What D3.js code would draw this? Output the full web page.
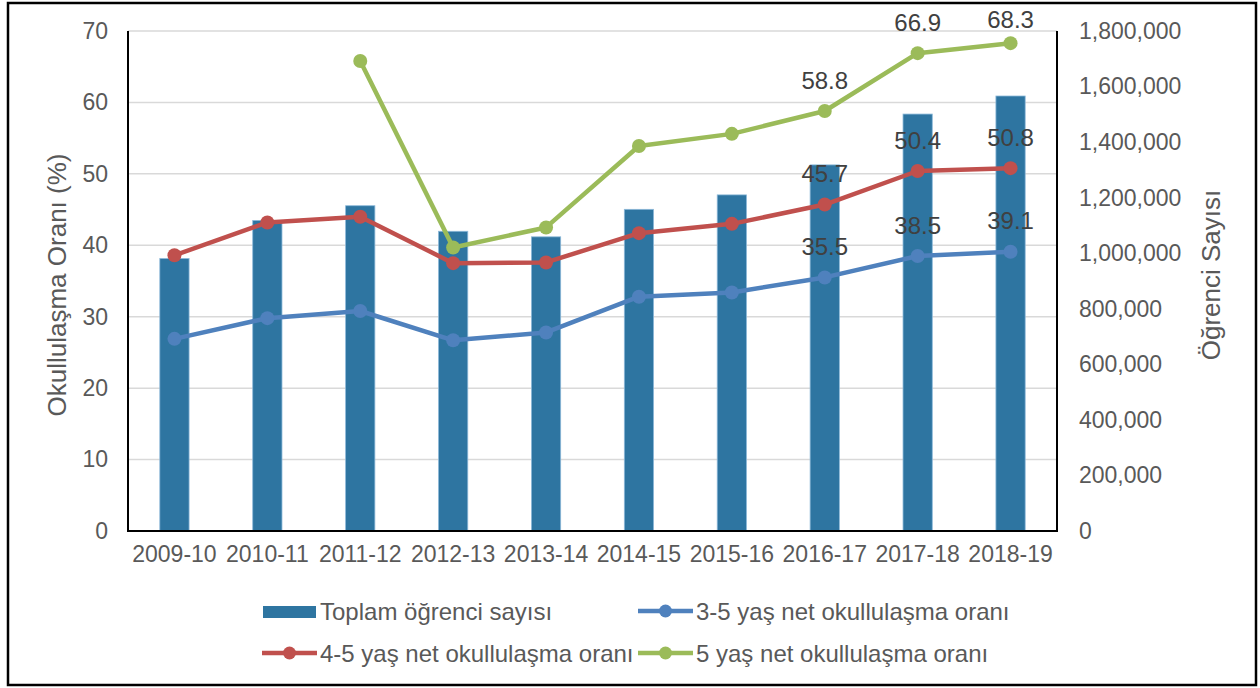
<!DOCTYPE html>
<html><head><meta charset="utf-8">
<script src="https://cdn.jsdelivr.net/npm/d3@7/dist/d3.min.js"></script>
<style>body{margin:0;background:#fff;}svg{display:block;font-family:"Liberation Sans",Arial,sans-serif;}</style>
</head><body>
<svg id="c" width="1260" height="688"></svg>
<script>
const categories = ["2009-10","2010-11","2011-12","2012-13","2013-14","2014-15","2015-16","2016-17","2017-18","2018-19"];
const toplamOgrenci = [981000,1118000,1171000,1079000,1059000,1158000,1210000,1318000,1501000,1566000];
const oran35 = [26.9,29.8,30.8,26.7,27.8,32.8,33.4,35.5,38.5,39.1];
const oran45 = [38.6,43.2,44.0,37.5,37.6,41.7,43.0,45.7,50.4,50.8];
const oran5  = [null,null,65.8,39.7,42.5,53.9,55.6,58.8,66.9,68.3];
const leftTicks = [0,10,20,30,40,50,60,70];
const rightTicks = [0,200000,400000,600000,800000,1000000,1200000,1400000,1600000,1800000];
const labeledIdx = [7,8,9];

const svg = d3.select("#c");
const L = 128, R = 1057, T = 31, B = 531;
const x = d3.scaleBand().domain(categories).range([L, R]);
const yL = d3.scaleLinear().domain([0,70]).range([B, T]);
const yR = d3.scaleLinear().domain([0,1800000]).range([B, T]);

// outer border
svg.append("rect").attr("x",8).attr("y",3).attr("width",1248).attr("height",682)
  .attr("fill","none").attr("stroke","#000").attr("stroke-width",2.5);

// gridlines
svg.append("g").selectAll("line").data(leftTicks.slice(1)).join("line")
  .attr("x1",L).attr("x2",R).attr("y1",d=>yL(d)).attr("y2",d=>yL(d))
  .attr("stroke","#d9d9d9").attr("stroke-width",1.5);

// bars
const bw = x.bandwidth()*0.315;
svg.append("g").selectAll("rect").data(toplamOgrenci).join("rect")
  .attr("x",(d,i)=>x(categories[i])+x.bandwidth()/2-bw/2)
  .attr("y",d=>yR(d)).attr("width",bw).attr("height",d=>B-yR(d))
  .attr("fill","#2e75a1").attr("stroke","#8db9d9").attr("stroke-width",0.8);

// axis frame lines
svg.append("line").attr("x1",L).attr("x2",L).attr("y1",T).attr("y2",B).attr("stroke","#000").attr("stroke-width",2);
svg.append("line").attr("x1",R).attr("x2",R).attr("y1",T).attr("y2",B).attr("stroke","#000").attr("stroke-width",2);
svg.append("line").attr("x1",L-1).attr("x2",R+1).attr("y1",B).attr("y2",B).attr("stroke","#000").attr("stroke-width",2);

// axes (labels only)
const axL = d3.axisLeft(yL).tickValues(leftTicks).tickSize(0).tickPadding(20);
const gL = svg.append("g").attr("transform",`translate(${L},0)`).call(axL);
const axR = d3.axisRight(yR).tickValues(rightTicks).tickSize(0).tickPadding(22).tickFormat(d3.format(","));
const gR = svg.append("g").attr("transform",`translate(${R},0)`).call(axR);
const axB = d3.axisBottom(x).tickSize(0).tickPadding(15);
const gB = svg.append("g").attr("transform",`translate(0,${B})`).call(axB);
[gL,gR,gB].forEach(g=>{
  g.select(".domain").remove();
  g.selectAll("text").attr("fill","#595959").style("font-size","23px").attr("font-family","Liberation Sans, Arial, sans-serif");
});

// axis titles
svg.append("text").attr("transform",`translate(66,${(T+B)/2+4}) rotate(-90)`).attr("text-anchor","middle")
  .attr("fill","#595959").style("font-size","26px").text("Okullulaşma Oranı (%)");
svg.append("text").attr("transform",`translate(1220,${(T+B)/2-6}) rotate(-90)`).attr("text-anchor","middle")
  .attr("fill","#595959").style("font-size","26px").text("Öğrenci Sayısı");

// lines
const series = [
  {vals:oran35, color:"#4f81bd"},
  {vals:oran45, color:"#c0504d"},
  {vals:oran5,  color:"#9bbb59"}
];
const cx = i => x(categories[i]) + x.bandwidth()/2;
series.forEach(s=>{
  const line = d3.line().defined(d=>d!=null).x((d,i)=>cx(i)).y(d=>yL(d));
  svg.append("path").datum(s.vals).attr("d",line).attr("fill","none")
    .attr("stroke",s.color).attr("stroke-width",4.5).attr("stroke-linejoin","round");
  svg.append("g").selectAll("circle").data(s.vals.map((v,i)=>({v,i})).filter(d=>d.v!=null)).join("circle")
    .attr("cx",d=>cx(d.i)).attr("cy",d=>yL(d.v)).attr("r",7).attr("fill",s.color);
  svg.append("g").selectAll("text").data(labeledIdx.map(i=>({v:s.vals[i],i}))).join("text")
    .attr("x",d=>cx(d.i)).attr("y",d=>Math.max(yL(d.v)-31,19)+8.5)
    .attr("text-anchor","middle").attr("fill","#404040").style("font-size","24px")
    .text(d=>d.v.toFixed(1));
});

// legend
const lg = svg.append("g");
lg.append("rect").attr("x",263).attr("y",606).attr("width",53).attr("height",12).attr("fill","#2e75a1");
lg.append("text").attr("x",320).attr("y",620).attr("fill","#595959").style("font-size","24px").text("Toplam öğrenci sayısı");
const legLines = [
  {x:638,y:611,color:"#4f81bd",label:"3-5 yaş net okullulaşma oranı"},
  {x:262,y:653,color:"#c0504d",label:"4-5 yaş net okullulaşma oranı"},
  {x:638,y:653,color:"#9bbb59",label:"5 yaş net okullulaşma oranı"}
];
legLines.forEach(l=>{
  lg.append("line").attr("x1",l.x).attr("x2",l.x+55).attr("y1",l.y).attr("y2",l.y).attr("stroke",l.color).attr("stroke-width",4.5);
  lg.append("circle").attr("cx",l.x+27.5).attr("cy",l.y).attr("r",6.5).attr("fill",l.color);
  lg.append("text").attr("x",l.x+58).attr("y",l.y+9).attr("fill","#595959").style("font-size","24px").text(l.label);
});
</script>
</body></html>
